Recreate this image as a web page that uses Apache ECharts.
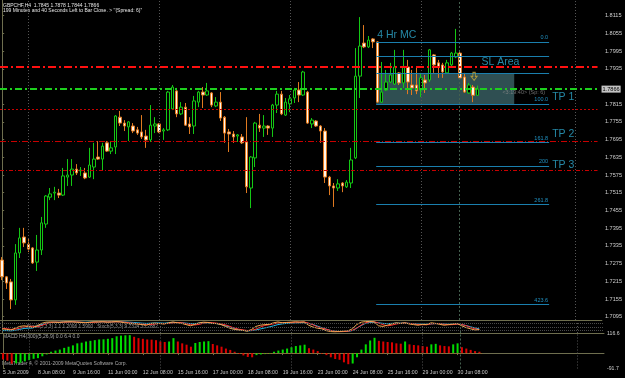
<!DOCTYPE html>
<html><head><meta charset="utf-8">
<script src="https://cdn.jsdelivr.net/npm/echarts@6/dist/echarts.min.js"></script>
<style>html,body{margin:0;padding:0;background:#000;}#c{width:625px;height:378px;}</style>
</head><body><div id="c"></div>
<script>
// ---------- data ----------
const headerLine1 = 'GBPCHF,H4  1.7845 1.7878 1.7844 1.7866';
const headerLine2 = "199 Minutes and 40 Seconds Left to Bar Close. > ''(Spread: 6)''";
const opens = [1.7287,1.7230,1.7213,1.7152,1.7311,1.7365,1.7341,1.7328,1.7280,1.7321,
1.7409,1.7500,1.7514,1.7514,1.7507,1.7568,1.7575,1.7595,1.7589,1.7582,
1.7568,1.7602,1.7636,1.7629,1.7684,1.7656,1.7670,1.7771,1.7751,1.7738,
1.7741,1.7728,1.7721,1.7707,1.7694,1.7741,1.7748,1.7724,1.7728,1.7799,
1.7860,1.7782,1.7805,1.7748,1.7741,1.7822,1.7856,1.7846,1.7853,1.7809,
1.7822,1.7771,1.7721,1.7714,1.7707,1.7704,1.7687,1.7531,1.7633,1.7744,
1.7734,1.7741,1.7734,1.7812,1.7849,1.7778,1.7816,1.7836,1.7863,1.7846,
1.7856,1.7748,1.7758,1.7741,1.7724,1.7568,1.7538,1.7531,1.7548,1.7535,
1.7548,1.7633,1.7910,1.8022,1.8009,1.8036,1.8026,1.7822,1.7863,1.7890,
1.7883,1.7921,1.7887,1.7941,1.7880,1.7880,1.7863,1.7897,1.7897,1.7982,
1.7955,1.7948,1.7921,1.7948,1.7975,1.7988,1.7907,1.7853,1.7873,1.7845];
const highs = [1.7297,1.7233,1.7223,1.7341,1.7396,1.7396,1.7358,1.7331,1.7372,1.7433,
1.7507,1.7531,1.7535,1.7528,1.7599,1.7629,1.7629,1.7612,1.7602,1.7599,
1.7667,1.7684,1.7690,1.7684,1.7690,1.7690,1.7778,1.7792,1.7761,1.7758,
1.7751,1.7738,1.7778,1.7728,1.7812,1.7771,1.7751,1.7734,1.7860,1.7880,
1.7870,1.7822,1.7819,1.7771,1.7843,1.7860,1.7873,1.7887,1.7856,1.7839,
1.7856,1.7775,1.7731,1.7724,1.7714,1.7714,1.7771,1.7639,1.7755,1.7782,
1.7778,1.7744,1.7816,1.7860,1.7860,1.7836,1.7846,1.7870,1.7890,1.7928,
1.7860,1.7768,1.7761,1.7744,1.7734,1.7572,1.7548,1.7561,1.7551,1.7558,
1.7667,1.8005,1.8110,1.8083,1.8046,1.8039,1.8029,1.7958,1.7931,1.7955,
1.7999,1.7924,1.7999,1.7965,1.7931,1.7941,1.7921,1.7914,1.8002,1.7985,
1.7965,1.7955,1.7965,1.7992,1.8070,1.7992,1.7921,1.7887,1.7880,1.7878];
const lows = [1.7219,1.7189,1.7121,1.7135,1.7294,1.7331,1.7314,1.7274,1.7250,1.7304,
1.7396,1.7490,1.7490,1.7497,1.7504,1.7538,1.7538,1.7575,1.7572,1.7561,
1.7565,1.7561,1.7626,1.7592,1.7653,1.7646,1.7646,1.7741,1.7724,1.7690,
1.7717,1.7711,1.7697,1.7667,1.7687,1.7717,1.7717,1.7694,1.7724,1.7795,
1.7771,1.7778,1.7741,1.7714,1.7714,1.7805,1.7802,1.7843,1.7805,1.7805,
1.7758,1.7684,1.7653,1.7684,1.7687,1.7680,1.7514,1.7463,1.7602,1.7721,
1.7704,1.7711,1.7704,1.7785,1.7778,1.7775,1.7788,1.7819,1.7822,1.7843,
1.7748,1.7734,1.7738,1.7684,1.7548,1.7507,1.7467,1.7521,1.7517,1.7531,
1.7531,1.7629,1.7836,1.8005,1.8005,1.8005,1.7819,1.7819,1.7860,1.7887,
1.7880,1.7880,1.7870,1.7849,1.7846,1.7849,1.7839,1.7853,1.7890,1.7921,
1.7904,1.7904,1.7917,1.7941,1.7971,1.7900,1.7853,1.7850,1.7822,1.7844];
const closes = [1.7230,1.7209,1.7152,1.7311,1.7362,1.7345,1.7324,1.7277,1.7321,1.7413,
1.7504,1.7511,1.7517,1.7507,1.7572,1.7575,1.7595,1.7582,1.7592,1.7565,
1.7609,1.7629,1.7629,1.7673,1.7656,1.7667,1.7775,1.7751,1.7741,1.7755,
1.7724,1.7717,1.7704,1.7694,1.7744,1.7748,1.7721,1.7728,1.7856,1.7873,
1.7782,1.7805,1.7744,1.7738,1.7826,1.7856,1.7846,1.7860,1.7812,1.7822,
1.7768,1.7717,1.7714,1.7704,1.7711,1.7684,1.7535,1.7636,1.7751,1.7734,
1.7741,1.7734,1.7812,1.7849,1.7782,1.7822,1.7833,1.7863,1.7846,1.7924,
1.7751,1.7761,1.7741,1.7724,1.7568,1.7538,1.7531,1.7545,1.7538,1.7551,
1.7626,1.7910,1.8012,1.8009,1.8032,1.8026,1.7822,1.7856,1.7890,1.7914,
1.7941,1.7887,1.7941,1.7890,1.7870,1.7860,1.7904,1.7887,1.7999,1.7948,
1.7941,1.7924,1.7955,1.7988,1.7988,1.7904,1.7856,1.7880,1.7845,1.7866];
const macd = [-38,-45,-63,-61,-57,-49,-42,-34,-30,-19,
-8,8,15,21,31,38,46,58,62,69,
73,77,81,82,85,89,100,104,106,107,
97,89,85,81,80,77,69,66,69,89,
69,58,50,38,60,66,69,71,54,46,
38,27,19,8,-5,-14,-23,-25,-12,-8,
-6,-3,8,15,21,27,35,42,46,50,
29,21,12,-5,-12,-25,-35,-40,-55,-66,
-62,-25,21,52,75,91,73,69,66,64,
58,56,69,52,48,46,42,38,52,55,
46,42,40,52,58,35,27,19,12,8];
const stochMain = [35,30,25,40,55,60,55,45,60,80,
90,92,90,88,92,94,93,90,88,85,
90,93,92,94,90,92,95,92,85,80,
78,75,70,65,80,82,78,75,85,92,
85,80,70,60,72,85,90,88,80,78,
70,55,40,30,25,22,15,30,55,65,
70,72,85,92,85,88,90,93,90,92,
65,50,40,35,20,12,10,12,15,18,
35,70,90,95,96,92,60,55,65,75,
85,80,85,75,70,65,72,70,85,80,
72,65,70,75,78,60,45,35,25,28];
const stochSignal = [40,36,30,32,40,50,57,55,52,62,
76,87,91,90,90,91,93,92,90,87,
87,89,92,93,92,92,93,93,90,85,
81,78,74,70,72,76,80,78,79,84,
87,86,78,70,67,72,82,88,86,82,
76,68,55,42,32,26,21,22,33,50,
63,69,76,83,87,88,88,90,91,92,
82,69,52,42,32,22,14,11,12,15,
22,41,65,85,94,94,83,69,60,65,
75,80,83,80,77,70,69,69,76,78,
79,72,69,70,74,71,61,47,35,29];
const stochSlow = [20,20,18,22,30,38,40,42,55,70,
82,88,90,90,92,92,93,92,90,90,
91,92,92,93,93,92,94,94,92,90,
88,85,82,80,82,84,84,82,85,88,
88,86,82,78,78,82,85,85,82,78,
72,62,50,38,28,22,18,20,26,34,
42,50,60,70,76,80,82,84,85,86,
80,70,58,45,32,22,15,12,12,14,
20,40,62,80,88,90,85,80,78,80,
82,82,83,80,78,75,74,73,76,78,
78,75,73,74,75,70,62,52,42,35];
const priceTicks = [1.8115,1.8055,1.7995,1.7935,1.7815,1.7755,1.7695,1.7635,1.7575,1.7515,
1.7455,1.7395,1.7335,1.7275,1.7215,1.7155,1.7095];
const dateTicks = [[0,'5 Jun 2009'],[8,'8 Jun 08:00'],[16,'9 Jun 16:00'],[24,'11 Jun 00:00'],
[32,'12 Jun 08:00'],[40,'15 Jun 16:00'],[48,'17 Jun 00:00'],[56,'18 Jun 08:00'],[64,'19 Jun 16:00'],
[72,'23 Jun 00:00'],[80,'24 Jun 08:00'],[88,'25 Jun 16:00'],[96,'29 Jun 00:00'],[104,'30 Jun 08:00']];
const weekStarts = [6,36,66,96];
const slLine = 1.7942, bidPrice = 1.7866, tp1 = 1.7798, tp2 = 1.7690, tp3 = 1.7592;
const fibLevels = [0,23.6,50,100,161.8,200,261.8,423.6];
const fibTexts = ['0.0','','','100.0','161.8','200','261.8','423.6'];
const fibHigh = 1.8026, fibLow = 1.7816;
const slAreaTop = 1.7921, slAreaBottom = 1.7816;
const macdMax = 116.6, macdMin = -91.7;
const priceMin = 1.70839, priceMax = 1.81679;

// ---------- layout / style ----------
const N = 138;
const slots = Array.from({length: N}, (_, i) => String(i));
const FONT = "'Liberation Sans Narrow','Liberation Sans',Arial,sans-serif";
const FRAME = '#6e6e4e';
const TEAL = '#2eaad0';
const FIBC = '#1a7fae';
const fibStart = 85.75, fibEnd = 125.4, areaEnd = 117.4, lineEnd = 136.5;
const gridL = -1.2, gridW = 605.2;

const candleData = opens.map((o, i) => [o, closes[i], lows[i], highs[i]]);
const macdData = macd.map((v, i) => ({
  value: v,
  itemStyle: {color: (i > 0 && v >= macd[i - 1]) ? '#00dd00' : '#dd0000'}
}));
const dateMap = new Map(dateTicks);

function vSep(extra) {
  return weekStarts.map(x => ({xAxis: x, lineStyle: {color: '#555', type: [1, 2], width: 1}}))
    .concat([
      {xAxis: 104.7, lineStyle: {color: '#44604f', type: [2, 2], width: 1}},
      {xAxis: 131.3, lineStyle: {color: '#555', type: [1, 2], width: 1}}
    ]).concat(extra || []);
}
function hLine(p, color, width, type, label) {
  return [{coord: [-0.5, p], lineStyle: {color, width, type}, label: label || {show: false}}, {coord: [lineEnd, p]}];
}
function txt(x, y, text, opt) {
  return {value: [x, y], label: Object.assign({show: true, formatter: text, position: 'inside',
    align: 'left', verticalAlign: 'middle', color: TEAL, fontSize: 10.5, fontFamily: FONT}, opt || {})};
}
const fibRange = fibHigh - fibLow;
const fibLines = fibLevels.map((lv, k) => {
  const p = fibHigh - lv / 100 * fibRange;
  return [{coord: [fibStart, p], label: fibTexts[k] ? {show: true, formatter: fibTexts[k], position: 'insideEndTop',
      distance: 1, color: '#2090c0', fontSize: 5.5, fontFamily: FONT} : {show: false}},
    {coord: [fibEnd, p]}];
});

const chart = echarts.init(document.getElementById('c'), null, {renderer: 'canvas'});
chart.setOption({
  backgroundColor: '#000',
  animation: false,
  grid: [
    {left: gridL, top: 0, width: gridW, height: 320},
    {left: gridL, top: 321, width: gridW, height: 12},
    {left: gridL, top: 333.5, width: gridW, height: 35}
  ],
  xAxis: [
    {type: 'category', gridIndex: 0, data: slots, boundaryGap: true,
     axisLine: {show: true, lineStyle: {color: FRAME}}, axisTick: {show: false}, axisLabel: {show: false}},
    {type: 'value', gridIndex: 0, min: -0.5, max: N - 0.5, show: false},
    {type: 'category', gridIndex: 1, data: slots, boundaryGap: true,
     axisLine: {show: true, lineStyle: {color: FRAME}}, axisTick: {show: false}, axisLabel: {show: false}},
    {type: 'value', gridIndex: 1, min: -0.5, max: N - 0.5, show: false},
    {type: 'category', gridIndex: 2, data: slots, boundaryGap: true,
     axisLine: {show: true, lineStyle: {color: FRAME}},
     axisTick: {show: true, alignWithLabel: true, length: 2, interval: (i) => dateMap.has(i), lineStyle: {color: FRAME}},
     axisLabel: {show: true, interval: (i) => dateMap.has(i), formatter: (v, i) => dateMap.get(i) || '',
       align: 'left', margin: 2, color: '#c8c8c8', fontSize: 5.2, fontFamily: FONT}},
    {type: 'value', gridIndex: 2, min: -0.5, max: N - 0.5, show: false}
  ],
  yAxis: [
    {type: 'value', gridIndex: 0, position: 'right', min: priceMin, max: priceMax,
     axisLine: {show: true, lineStyle: {color: FRAME}}, splitLine: {show: false},
     axisTick: {show: true, length: 2, customValues: priceTicks, lineStyle: {color: FRAME}},
     axisLabel: {show: true, customValues: priceTicks, formatter: v => v.toFixed(4), margin: 3,
       color: '#cfcfcf', fontSize: 5.6, fontFamily: FONT}},
    {type: 'value', gridIndex: 1, position: 'right', min: 0, max: 100,
     axisLine: {show: true, lineStyle: {color: FRAME}}, splitLine: {show: false},
     axisTick: {show: false}, axisLabel: {show: false}},
    {type: 'value', gridIndex: 2, position: 'right', min: macdMin, max: macdMax,
     axisLine: {show: true, lineStyle: {color: FRAME}}, splitLine: {show: false},
     axisTick: {show: true, length: 2, customValues: [macdMax, macdMin], lineStyle: {color: FRAME}},
     axisLabel: {show: true, customValues: [macdMax, macdMin], formatter: v => v.toFixed(1), margin: 3,
       color: '#cfcfcf', fontSize: 5.2, fontFamily: FONT}}
  ],
  series: [
    // SL area rectangle + separators (background)
    {type: 'line', xAxisIndex: 1, yAxisIndex: 0, data: [], z: 1, silent: true,
     markArea: {silent: true, itemStyle: {color: '#2f4f52'},
       data: [[{coord: [fibStart, slAreaTop]}, {coord: [areaEnd, slAreaBottom]}]]},
     markLine: {silent: true, symbol: ['none', 'none'], label: {show: false}, data: vSep()}},
    // horizontal lines + fibo
    {type: 'line', xAxisIndex: 1, yAxisIndex: 0, data: [], z: 2, silent: true,
     markLine: {silent: true, symbol: ['none', 'none'], animation: false,
       data: [
         hLine(slLine, '#ff1010', 2, [8, 3, 2, 3]),
         hLine(bidPrice, '#1ed01e', 2, [7, 3, 2, 3], {show: true, position: 'end', formatter: bidPrice.toFixed(4),
           distance: 4, backgroundColor: '#c4c4c4', color: '#000', fontSize: 5.6, padding: [1, 1, 0, 1], fontFamily: FONT}),
         hLine(tp1, '#c80000', 1, [2, 2]),
         hLine(tp2, '#c80000', 1, [6, 2, 1, 2]),
         hLine(tp3, '#c80000', 1, [4, 2, 1, 2])
       ].concat(fibLines.map(l => { l[0].lineStyle = {color: FIBC, width: 1, type: 'solid'}; return l; }))}},
    // candles
    {type: 'candlestick', xAxisIndex: 0, yAxisIndex: 0, data: candleData, barWidth: 3, z: 3,
     itemStyle: {color: '#000', color0: '#fff6ea', borderColor: '#14c814', borderColor0: '#e07a20', borderWidth: 1}},
    // annotation texts
    {type: 'scatter', xAxisIndex: 1, yAxisIndex: 0, symbolSize: 0, z: 5, silent: true,
     data: [
       txt(85.97, 1.8048, '4 Hr MC'),
       txt(109.9, 1.7958, 'SL Area'),
       txt(126.1, 1.7839, 'TP 1'),
       txt(126.1, 1.7714, 'TP 2'),
       txt(126.1, 1.7609, 'TP 3'),
       txt(124.5, 1.7855, '<3:19:40> (Sp: 6)', {align: 'right', color: '#8a8a8a', fontSize: 5.5})
     ]},
    {type: 'scatter', xAxisIndex: 1, yAxisIndex: 0, z: 5, silent: true,
     symbol: 'path://M3,0 L7,0 L7,5 L10,5 L5,10 L0,5 L3,5 Z', symbolSize: [6, 8],
     itemStyle: {color: 'rgba(0,0,0,0)', borderColor: '#c8a838', borderWidth: 1},
     data: [[108.2, 1.7909]]},
    // stochastic panel
    {type: 'line', xAxisIndex: 3, yAxisIndex: 1, data: [], silent: true, z: 1,
     markLine: {silent: true, symbol: ['none', 'none'], label: {show: false},
       data: vSep([{yAxis: 20, lineStyle: {color: '#4a4a4a', type: [1, 1]}}, {yAxis: 50, lineStyle: {color: '#4a4a4a', type: [1, 1]}},
                   {yAxis: 80, lineStyle: {color: '#4a4a4a', type: [1, 1]}}])}},
    {type: 'line', xAxisIndex: 2, yAxisIndex: 1, data: stochSlow, symbol: 'none', z: 2,
     lineStyle: {color: '#20b8e8', width: 1}},
    {type: 'line', xAxisIndex: 2, yAxisIndex: 1, data: stochSignal, symbol: 'none', z: 2,
     lineStyle: {color: '#ff3030', width: 1}},
    {type: 'line', xAxisIndex: 2, yAxisIndex: 1, data: stochMain, symbol: 'none', z: 2,
     lineStyle: {color: '#f0a850', width: 1}},
    // MACD panel
    {type: 'line', xAxisIndex: 5, yAxisIndex: 2, data: [], silent: true, z: 1,
     markLine: {silent: true, symbol: ['none', 'none'], label: {show: false},
       data: vSep().concat([[{coord: [-0.5, 0], lineStyle: {color: '#b06a20', type: [1, 2], width: 1}}, {coord: [macd.length - 0.5, 0]}]])}},
    {type: 'bar', xAxisIndex: 4, yAxisIndex: 2, data: macdData, barWidth: 2, z: 2}
  ],
  graphic: [
    {type: 'text', left: 3, top: 3, silent: true,
     style: {text: headerLine1, fill: '#e6e6e6', fontSize: 5, fontFamily: FONT}},
    {type: 'text', left: 3, top: 8.5, silent: true,
     style: {text: headerLine2, fill: '#e6e6e6', fontSize: 5, fontFamily: FONT}},
    {type: 'text', left: 27, top: 324.5, silent: true,
     style: {text: 'Stoch(5,3,3) 1.1 1.2006 1.5900   Stoch(5,3,3) 9.7324 33.2882', fill: '#9a9a9a', fontSize: 4.8, fontFamily: FONT}},
    {type: 'text', left: 3, top: 334.5, silent: true,
     style: {text: 'MACD H4(300)(5,26,9) 0.0 6.4 0.0', fill: '#a8a8a8', fontSize: 5, fontFamily: FONT}},
    {type: 'text', left: 2, top: 361.5, silent: true,
     style: {text: 'MetaTrader 4, \u00a9 2001-2009 MetaQuotes Software Corp.', fill: '#a8a8a8', fontSize: 5, fontFamily: FONT}}
  ]
});
</script></body></html>
